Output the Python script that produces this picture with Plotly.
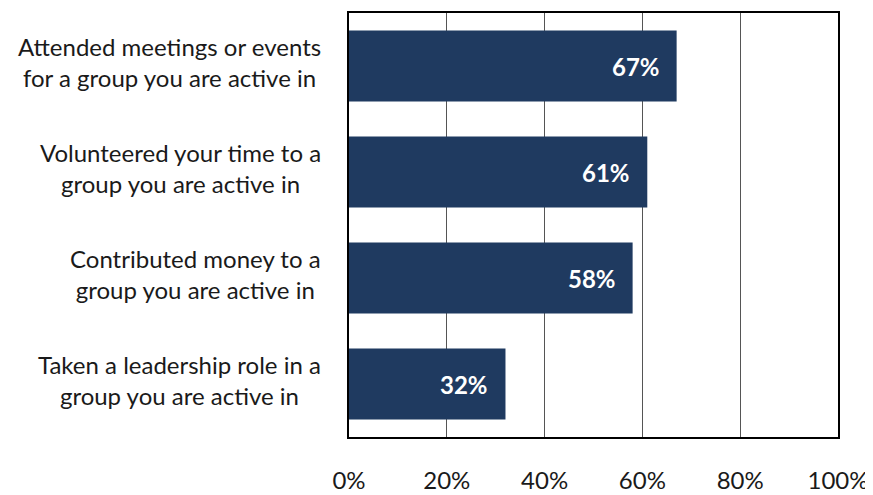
import plotly.graph_objects as go

categories = [
    "Attended meetings or events<br>for a group you are active in",
    "Volunteered your time to a<br>group you are active in",
    "Contributed money to a<br>group you are active in",
    "Taken a leadership role in a<br>group you are active in",
]
values = [67, 61, 58, 32]
value_labels = ["67%", "61%", "58%", "32%"]
tick_vals = [0, 20, 40, 60, 80, 100]
tick_text = ["0%", "20%", "40%", "60%", "80%", "100%"]

bar_color = "#1f3a60"
font_family = "Lato, 'Open Sans', sans-serif"

fig = go.Figure()
fig.add_trace(go.Bar(
    x=values,
    y=categories,
    orientation="h",
    marker=dict(color=bar_color, line=dict(width=0)),
    hoverinfo="skip",
))

annotations = []
for cat, v, lab in zip(categories, values, value_labels):
    annotations.append(dict(
        x=v, y=cat, xref="x", yref="y", text="<b>" + lab + "</b>",
        showarrow=False, xanchor="right", xshift=-15, yshift=0,
        font=dict(family=font_family, size=24, color="white"),
    ))
    annotations.append(dict(
        x=0, y=cat, xref="paper", yref="y", text=cat,
        showarrow=False, xanchor="right", xshift=-26, yshift=4, align="center",
        font=dict(family=font_family, size=24, color="#1a1a1a"),
    ))

fig.update_layout(
    width=865, height=487,
    margin=dict(l=341, r=35, t=5, b=58, autoexpand=False),
    paper_bgcolor="white", plot_bgcolor="white",
    showlegend=False,
    bargap=0.33,
    annotations=annotations,
    font=dict(family=font_family, color="#1a1a1a"),
)
fig.update_xaxes(
    range=[0, 100], tickvals=tick_vals, ticktext=tick_text,
    showgrid=True, gridcolor="#555555", gridwidth=1,
    showline=True, linecolor="black", linewidth=2, mirror=True,
    zeroline=False, ticks="", ticklabelstandoff=21, automargin=False,
    tickfont=dict(family=font_family, size=24, color="#1a1a1a"),
)
fig.update_yaxes(
    categoryorder="array", categoryarray=categories[::-1],
    showticklabels=False, showgrid=False, automargin=False,
    showline=True, linecolor="black", linewidth=2, mirror=True,
)

fig.write_html("out.html")
